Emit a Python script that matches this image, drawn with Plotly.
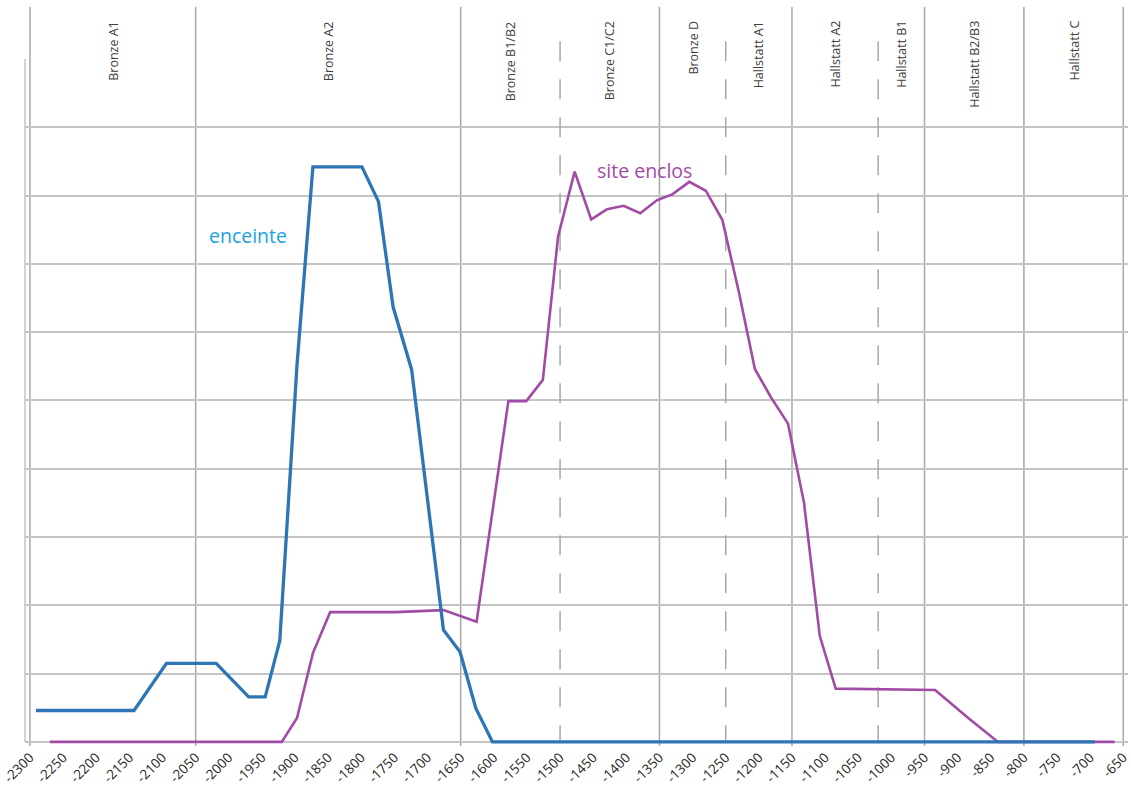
import plotly.graph_objects as go

# ---- data ----
enceinte_x = [-2291, -2143, -2094, -2019, -1970, -1945, -1923, -1897, -1873, -1799,
              -1774, -1752, -1724, -1676, -1651, -1627, -1602, -693]
enceinte_y = [0.46, 0.46, 1.15, 1.15, 0.66, 0.66, 1.48, 5.52, 8.42, 8.42,
              7.91, 6.37, 5.45, 1.64, 1.32, 0.49, 0, 0]

site_x = [-2270, -1920, -1897, -1873, -1847, -1748, -1676, -1626, -1578, -1551,
          -1526, -1503, -1478, -1453, -1429, -1404, -1379, -1354, -1330, -1305,
          -1280, -1255, -1230, -1206, -1182, -1156, -1132, -1108, -1084, -934,
          -884, -839, -663]
site_y = [0, 0, 0.35, 1.30, 1.90, 1.90, 1.93, 1.76, 4.99, 4.99,
          5.30, 7.40, 8.35, 7.65, 7.80, 7.85, 7.74, 7.93, 8.02, 8.20,
          8.07, 7.64, 6.58, 5.46, 5.05, 4.66, 3.51, 1.55, 0.78, 0.76,
          0.35, 0, 0]

period_names = ["Bronze A1", "Bronze A2", "Bronze B1/B2", "Bronze C1/C2", "Bronze D",
                "Hallstatt A1", "Hallstatt A2", "Hallstatt B1", "Hallstatt B2/B3", "Hallstatt C"]
period_bounds = [-2300, -2050, -1650, -1500, -1350, -1250, -1150, -1020, -950, -800, -650]
dashed_bounds = [-1500, -1250, -1020]

tick_vals = list(range(-2300, -649, 50))
tick_text = [str(v) for v in tick_vals]
grid_vals = list(range(0, 10))

# ---- styles ----
BLUE = "#2e75b6"
PINK = "#a24ba6"
GRID = "#c4c4c4"
VLINE = "#a8a8a8"
TXT = "#404040"

fig = go.Figure()
fig.add_trace(go.Scatter(x=site_x, y=site_y, mode="lines",
                         line=dict(color=PINK, width=2.6), hoverinfo="skip"))
fig.add_trace(go.Scatter(x=enceinte_x, y=enceinte_y, mode="lines",
                         line=dict(color=BLUE, width=3.3), hoverinfo="skip"))

shapes = []
for b in period_bounds:
    if b in dashed_bounds:
        shapes.append(dict(type="line", xref="x", yref="y", x0=b, x1=b, y0=10.26, y1=0,
                           line=dict(color=VLINE, width=1.5, dash="20px,18px"), layer="between"))
    else:
        shapes.append(dict(type="line", xref="x", yref="paper", x0=b, x1=b, y0=0, y1=1,
                           line=dict(color=VLINE, width=1.5), layer="between"))
# left axis line
shapes.append(dict(type="line", xref="paper", yref="y", x0=0, x1=0, y0=0, y1=10,
                   line=dict(color=GRID, width=1.5), layer="between"))

annotations = []
for i, name in enumerate(period_names):
    mid = (period_bounds[i] + period_bounds[i + 1]) / 2
    annotations.append(dict(x=mid, y=1, xref="x", yref="paper", text=name, textangle=-90,
                            showarrow=False, yanchor="top", xanchor="center", yshift=-12,
                            font=dict(family="Open Sans", size=12.5, color=TXT)))
annotations.append(dict(x=-2033, y=7.42, xref="x", yref="y", text="enceinte",
                        showarrow=False, xanchor="left", yanchor="middle",
                        font=dict(family="Open Sans", size=19.5, color="#1ba1e2")))
annotations.append(dict(x=-1447, y=8.37, xref="x", yref="y", text="site enclos",
                        showarrow=False, xanchor="left", yanchor="middle",
                        font=dict(family="Open Sans", size=19.5, color=PINK)))

fig.update_layout(
    width=1131, height=792,
    margin=dict(l=25, r=3, t=7, b=46, autoexpand=False),
    paper_bgcolor="white", plot_bgcolor="white",
    showlegend=False,
    shapes=shapes, annotations=annotations,
    xaxis=dict(range=[-2307.5, -642.9], tickvals=tick_vals, ticktext=tick_text,
               tickangle=-45, showgrid=False, zeroline=False, showline=False,
               ticks="", tickfont=dict(family="Open Sans", size=13.5, color="#262626"),
               ticklabeloverflow="allow",
               layer="below traces", fixedrange=True, automargin=False),
    yaxis=dict(range=[-0.06, 10.76], tickvals=grid_vals, showticklabels=False,
               showgrid=True, gridcolor=GRID, gridwidth=1.5, zeroline=False,
               showline=False, ticks="", fixedrange=True, automargin=False),
)

fig.write_html("out.html", config={"displayModeBar": False},
               post_script="document.body.style.margin='0';document.body.style.overflow='hidden';")
